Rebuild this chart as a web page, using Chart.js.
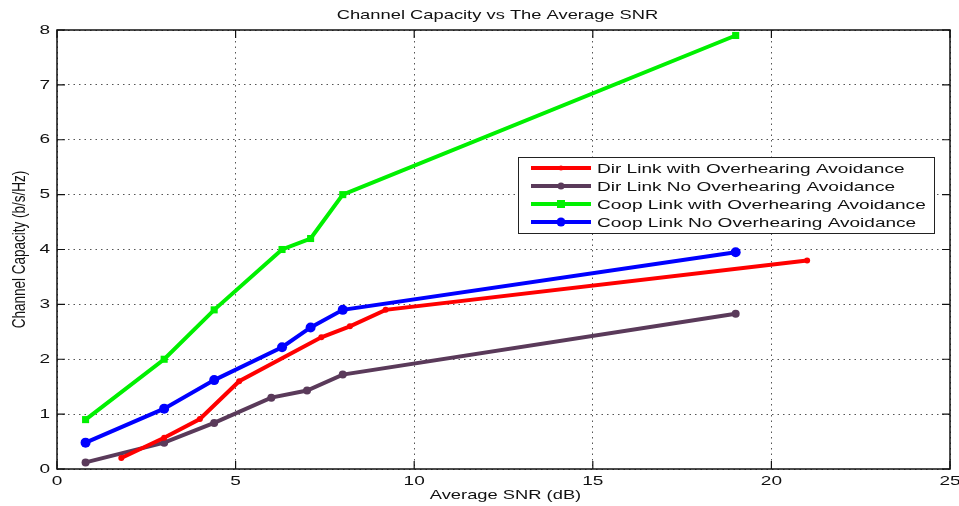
<!DOCTYPE html>
<html>
<head>
<meta charset="utf-8">
<script src="https://cdn.jsdelivr.net/npm/chart.js@4/dist/chart.umd.min.js"></script>
<style>
  html, body { margin: 0; padding: 0; background: #fff; }
  #wrap { width: 959px; height: 506px; position: relative; }
</style>
</head>
<body>
<div id="wrap"><canvas id="myChart" width="959" height="506"></canvas></div>
<script>
// values
const labels = ['Dir Link with Overhearing Avoidance', 'Dir Link No Overhearing Avoidance',
                'Coop Link with Overhearing Avoidance', 'Coop Link No Overhearing Avoidance'];
const dirOhX = [1.8, 3.0, 4.0, 5.1, 7.4, 8.2, 9.2, 21.0];
const dirOhY = [0.2, 0.57, 0.91, 1.6, 2.4, 2.6, 2.9, 3.8];
const dirNoX = [0.8, 3.0, 4.4, 6.0, 7.0, 8.0, 19.0];
const dirNoY = [0.12, 0.48, 0.84, 1.3, 1.43, 1.72, 2.83];
const coopOhX = [0.8, 3.0, 4.4, 6.3, 7.1, 8.0, 19.0];
const coopOhY = [0.9, 2.0, 2.9, 4.0, 4.2, 5.0, 7.9];
const coopNoX = [0.8, 3.0, 4.4, 6.3, 7.1, 8.0, 19.0];
const coopNoY = [0.48, 1.1, 1.62, 2.22, 2.58, 2.9, 3.95];
const xTicks = [0, 5, 10, 15, 20, 25];
const yTicks = [0, 1, 2, 3, 4, 5, 6, 7, 8];

const pts = (xs, ys) => xs.map((x, i) => ({x: x, y: ys[i]}));
const font = "'Liberation Sans', Arial, sans-serif";
const SX = 1.41; // the picture's text is stretched sideways

// draws text stretched horizontally
function wideText(ctx, txt, x, y, align, size) {
    ctx.save();
    ctx.font = size + 'px ' + font;
    ctx.textBaseline = 'middle';
    ctx.textAlign = 'left';
    const w = ctx.measureText(txt).width * SX;
    let x0 = x;
    if (align === 'center') x0 = x - w / 2;
    if (align === 'right') x0 = x - w;
    ctx.translate(x0, y);
    ctx.scale(SX, 1);
    ctx.fillText(txt, 0, 0);
    ctx.restore();
}

const frame = {
    id: 'frame',
    afterDraw(chart) {
        const ctx = chart.ctx, a = chart.chartArea;
        const xs = chart.scales.x, ys = chart.scales.y;
        ctx.save();
        ctx.strokeStyle = '#111';
        ctx.lineWidth = 1.5;
        ctx.strokeRect(a.left, a.top, a.right - a.left, a.bottom - a.top);
        // inward tick marks on all sides
        ctx.lineWidth = 1.2;
        ctx.beginPath();
        xs.ticks.forEach(t => {
            const px = xs.getPixelForValue(t.value);
            ctx.moveTo(px, a.bottom); ctx.lineTo(px, a.bottom - 8);
            ctx.moveTo(px, a.top); ctx.lineTo(px, a.top + 8);
        });
        ys.ticks.forEach(t => {
            const py = ys.getPixelForValue(t.value);
            ctx.moveTo(a.left, py); ctx.lineTo(a.left + 8, py);
            ctx.moveTo(a.right, py); ctx.lineTo(a.right - 8, py);
        });
        ctx.stroke();
        ctx.fillStyle = '#111';
        // tick labels
        xs.ticks.forEach(t => wideText(ctx, String(t.value), xs.getPixelForValue(t.value), a.bottom + 12, 'center', 13.5));
        ys.ticks.forEach(t => wideText(ctx, String(t.value), a.left - 7, ys.getPixelForValue(t.value), 'right', 13.5));
        // title and axis titles
        wideText(ctx, 'Channel Capacity vs The Average SNR', (a.left + a.right) / 2 - 6, 15, 'center', 13);
        wideText(ctx, 'Average SNR (dB)', (a.left + a.right) / 2 + 2, 495, 'center', 13);
        ctx.save();
        ctx.translate(20, (a.top + a.bottom) / 2);
        ctx.rotate(-Math.PI / 2);
        ctx.scale(1, 1.3);
        ctx.font = '13.5px ' + font;
        ctx.textAlign = 'center';
        ctx.textBaseline = 'middle';
        ctx.fillText('Channel Capacity (b/s/Hz)', 0, 0);
        ctx.restore();
        // legend
        const lx = 518, ly = 157, lw = 416, lh = 76;
        ctx.fillStyle = '#fff';
        ctx.fillRect(lx, ly, lw, lh);
        ctx.strokeStyle = '#222';
        ctx.lineWidth = 1;
        ctx.strokeRect(lx + 0.5, ly + 0.5, lw, lh);
        chart.data.datasets.forEach((ds, i) => {
            const y = ly + 11 + i * 18;
            ctx.strokeStyle = ds.borderColor;
            ctx.lineWidth = 4;
            ctx.beginPath();
            ctx.moveTo(lx + 13, y);
            ctx.lineTo(lx + 73, y);
            ctx.stroke();
            ctx.fillStyle = ds.borderColor;
            ctx.beginPath();
            if (ds.pointStyle === 'rect') {
                ctx.rect(lx + 39, y - 4, 8, 8);
            } else {
                ctx.arc(lx + 43, y, ds.pointRadius - 0.5, 0, Math.PI * 2);
            }
            ctx.fill();
            ctx.fillStyle = '#111';
            wideText(ctx, ds.label, lx + 79, y + 1, 'left', 13.5);
        });
        ctx.restore();
    }
};

const mk = (label, data, color, style, r) => ({
    label: label, data: data,
    borderColor: color, backgroundColor: color,
    borderWidth: 4, pointStyle: style, pointRadius: r,
    pointBorderWidth: 0, tension: 0, fill: false
});

new Chart(document.getElementById('myChart').getContext('2d'), {
    type: 'line',
    data: {
        datasets: [
            mk(labels[0], pts(dirOhX, dirOhY), '#ff0000', 'circle', 3),
            mk(labels[1], pts(dirNoX, dirNoY), '#5a3a5a', 'circle', 4),
            mk(labels[2], pts(coopOhX, coopOhY), '#00f000', 'rect', 5),
            mk(labels[3], pts(coopNoX, coopNoY), '#0000ff', 'circle', 5)
        ]
    },
    options: {
        responsive: false,
        animation: false,
        layout: { autoPadding: false, padding: { top: 30, right: 9, left: 0, bottom: 0 } },
        plugins: { legend: { display: false }, title: { display: false }, tooltip: { enabled: false } },
        scales: {
            x: {
                type: 'linear', min: 0, max: 25,
                afterFit: s => { s.height = 37; },
                afterBuildTicks: s => { s.ticks = xTicks.map(v => ({value: v})); },
                grid: { color: '#555', lineWidth: 1, drawTicks: false },
                border: { display: false, dash: [1.5, 4] },
                ticks: { display: false }
            },
            y: {
                type: 'linear', min: 0, max: 8,
                afterFit: s => { s.width = 57; },
                afterBuildTicks: s => { s.ticks = yTicks.map(v => ({value: v})); },
                grid: { color: '#555', lineWidth: 1, drawTicks: false },
                border: { display: false, dash: [1.5, 4] },
                ticks: { display: false }
            }
        }
    },
    plugins: [frame]
});
</script>
</body>
</html>
